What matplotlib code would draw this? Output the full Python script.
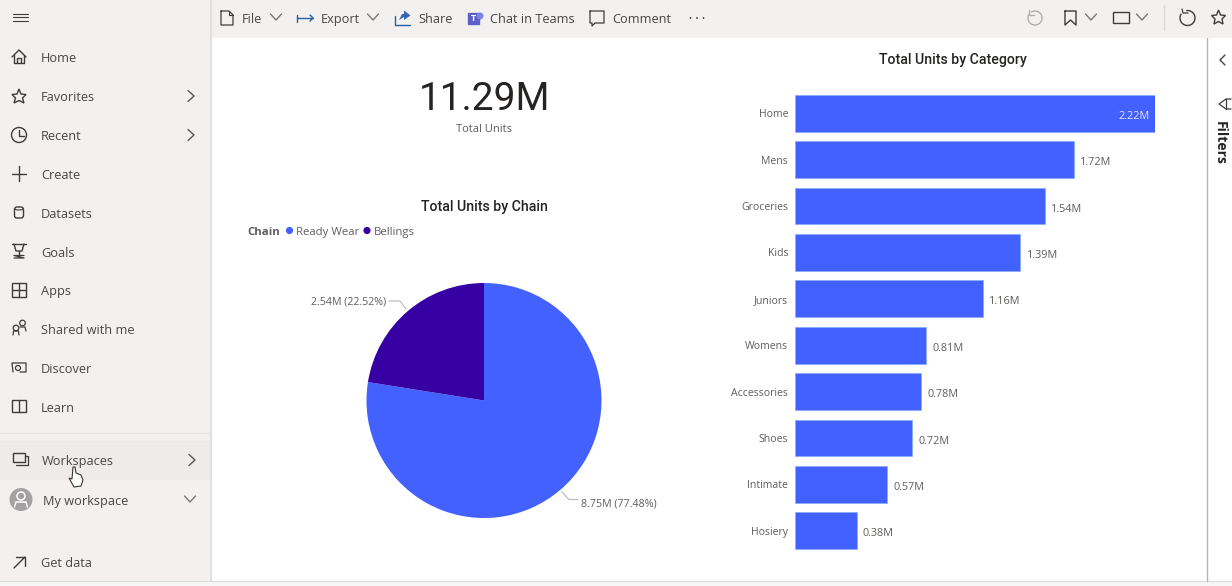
import matplotlib
matplotlib.use("Agg")
import matplotlib.pyplot as plt
from matplotlib.patches import Rectangle, Circle, Polygon, Arc, FancyBboxPatch

W, H = 1232, 586

# chart data
categories = ["Home", "Mens", "Groceries", "Kids", "Juniors", "Womens", "Accessories", "Shoes", "Intimate", "Hosiery"]
units = [2.22, 1.72, 1.54, 1.39, 1.16, 0.81, 0.78, 0.72, 0.57, 0.38]
chains = ["Ready Wear", "Bellings"]
chain_units = [8.75, 2.54]
chain_pct = [77.48, 22.52]
total_units = "11.29M"

nav_items = ["Home", "Favorites", "Recent", "Create", "Datasets", "Goals", "Apps", "Shared with me", "Discover", "Learn"]
nav_y = [57, 96, 135, 174, 213, 252, 290, 329, 368, 407]

BLUE = "#4361ff"
PURPLE = "#3700a3"
TEXT = "#4a4646"
LABEL = "#605e5c"
TITLE = "#252423"
ICON = "#3f3c3c"
PANE = "#f4f0f0"

plt.rcParams["font.family"] = ["Open Sans", "DejaVu Sans"]

fig = plt.figure(figsize=(W / 100, H / 100), dpi=100, facecolor="white")


def px_axes(x0, y0, x1, y1):
    # axes from pixel box, y measured from the top
    return fig.add_axes([x0 / W, 1 - y1 / H, (x1 - x0) / W, (y1 - y0) / H])


# background layer for app chrome, in pixel coords
bg = fig.add_axes([0, 0, 1, 1])
bg.set_xlim(0, W)
bg.set_ylim(H, 0)
bg.axis("off")


def line(xs, ys, c=ICON, lw=1.0):
    bg.plot(xs, ys, color=c, lw=lw, solid_capstyle="round", solid_joinstyle="round")


def box(x, y, w, h, ec=ICON, fc="none", lw=1.0):
    bg.add_patch(Rectangle((x, y), w, h, ec=ec, fc=fc, lw=lw))


def txt(x, y, s, size=9.2, c=TEXT, ha="left", **kw):
    # y is the text baseline
    bg.text(x, y, s, fontsize=size, color=c, ha=ha, va="baseline", **kw)


def chev_right(x, y):
    line([x - 3, x + 3, x - 3], [y - 5.5, y, y + 5.5], c="#555555")


def chev_down(x, y, s=5.5):
    line([x - s, x, x + s], [y - 3, y + 3, y - 3], c="#777777")


bg.add_patch(Rectangle((0, 0), 211, H, fc=PANE, ec="none"))
bg.add_patch(Rectangle((211, 0), W - 211, 38, fc="#f3f0f0", ec="none"))
bg.add_patch(Rectangle((210, 0), 2, H, fc="#e2dfdf", ec="none"))
bg.add_patch(Rectangle((0, 581), W, 5, fc="#f7f6f6", ec="none"))
line([0, W], [581, 581], c="#dedcdc", lw=0.9)
bg.add_patch(Rectangle((0, 441), 210, 39, fc="#efebeb", ec="none"))
line([0, 210], [432.5, 432.5], c="#e6e2e2", lw=0.8)
line([1207, 1207], [38, 581], c="#b5b3b3", lw=1.0)

# hamburger
for y in [13.5, 17, 20.5]:
    line([13, 28], [y, y], lw=0.8)

for label, y in zip(nav_items, nav_y):
    txt(41, y + 5.2, label)
txt(42, 465.5, "Workspaces")
txt(43, 504.5, "My workspace")
txt(41, 567, "Get data")

# nav icons
line([12, 19, 26], [57, 50, 57])
line([14, 14, 24, 24], [55, 63, 63, 55])
line([17, 17, 21, 21], [63, 58, 58, 63])
bg.add_patch(Polygon([(19, 89), (21, 94), (26, 94.5), (22.5, 98), (24, 103), (19, 100.5), (14, 103), (15.5, 98), (12, 94.5), (17, 94)],
                     closed=True, fc="none", ec=ICON, lw=1))
bg.add_patch(Circle((19, 135), 7.5, fc="none", ec=ICON, lw=1))
line([19, 19, 24], [130, 136, 136])
line([12, 26], [174, 174])
line([19, 19], [166, 181])
bg.add_patch(FancyBboxPatch((14.5, 207), 9, 11, boxstyle="round,pad=0,rounding_size=2.5", fc="none", ec=ICON, lw=1))
bg.add_patch(Arc((19, 208.5), 9, 3, theta1=0, theta2=180, ec=ICON, lw=0.8))
line([12, 26], [244, 244])
line([14, 16, 22, 24], [244, 251, 251, 244])
line([19, 19], [251, 256])
line([14, 24, 14, 24], [258, 258, 255.5, 255.5], lw=0.9)
box(12, 283, 14, 14)
line([12, 26], [290, 290])
line([19, 19], [283, 297])
bg.add_patch(Circle((22.5, 323), 2.8, fc="none", ec=ICON, lw=0.9))
bg.add_patch(Circle((16, 328), 2.8, fc="none", ec=ICON, lw=0.9))
line([13, 13.5, 18.5, 19], [335, 331, 331, 335], lw=0.9)
line([20, 25, 26], [327, 327, 331], lw=0.9)
line([13, 12, 26, 26, 20], [372, 363, 363, 372, 372], lw=0.9)
bg.add_patch(Circle((18, 368), 2.5, fc="none", ec=ICON, lw=0.9))
box(12, 400, 14, 12)
line([19, 19], [400, 412])
box(13, 453, 12, 9)
line([25, 28, 28, 16], [456, 456, 465, 465], lw=0.9)
chev_right(191, 96)
chev_right(191, 135)
chev_right(192, 460)
chev_down(190, 499)
bg.add_patch(Circle((21, 499.5), 11.5, fc="#a3a1a1", ec="none"))
bg.add_patch(Circle((21, 496), 4, fc="none", ec="white", lw=1.1))
line([14.5, 16, 26, 27.5], [507, 502, 502, 507], c="white", lw=1.1)
line([14, 25], [568, 557])
line([16, 25, 25], [557, 557, 566])
# cursor
bg.add_patch(Polygon([(73, 467), (75, 467), (76, 473), (81, 475), (83, 480), (81, 486), (74, 487), (69, 478), (72, 479)],
                     closed=True, fc="white", ec="#333333", lw=0.8, zorder=5))

# toolbar
tb_items = [("File", 242), ("Export", 321), ("Share", 418), ("Chat in Teams", 490), ("Comment", 612)]
for label, x in tb_items:
    txt(x, 23.3, label)
line([221, 221, 233, 233, 229, 221], [11, 25, 25, 15, 11, 11], lw=0.9)
line([229, 229, 233], [11, 15, 15], lw=0.8)
chev_down(276, 17)
chev_down(373, 17)
line([297, 297], [14.5, 22], c="#2a5ca8")
line([297, 313], [18, 18], c="#2a5ca8")
line([310, 313, 310], [15, 18, 21], c="#2a5ca8")
line([395, 395, 410], [16, 25, 25], c="#2a5ca8")
bg.add_patch(Polygon([(399, 20), (402, 14), (404, 14), (404, 10.5), (410.5, 15.5), (404, 20), (404, 17)], fc="#3565b5", ec="none"))
box(467.5, 12.5, 11, 11, ec="#5b5fc7", fc="#5b5fc7")
bg.add_patch(Circle((480, 16), 3.5, fc="#7b83eb", ec="none"))
bg.text(473, 18.2, "T", fontsize=6.5, color="white", ha="center", va="center", fontweight="bold")
line([590, 604, 604, 595, 592, 592, 590, 590], [11, 11, 23, 23, 26, 23, 23, 11], lw=0.9)
for x in [690.5, 697, 703.5]:
    bg.add_patch(Circle((x, 18), 0.9, fc=ICON, ec="none"))

# right toolbar
bg.add_patch(Arc((1035, 18), 14, 14, theta1=-125, theta2=210, ec="#b0aeae", lw=1))
line([1029, 1029, 1034], [10, 15, 15], c="#b0aeae", lw=1)
line([1065, 1065, 1070.5, 1076, 1076, 1065], [11, 25, 20, 25, 11, 11], lw=1)
chev_down(1091, 17)
box(1113, 12, 16, 11)
chev_down(1142, 17)
line([1164, 1164], [5, 30], c="#dcdada", lw=1)
bg.add_patch(Arc((1187.5, 18), 15, 15, theta1=-100, theta2=215, ec=ICON, lw=1))
line([1182, 1183, 1188], [9, 13, 13], lw=0.9)
bg.add_patch(Polygon([(1218.5, 10), (1220.5, 15), (1225.5, 15.5), (1222, 19), (1223, 24), (1218.5, 21.5), (1214, 24), (1215, 19), (1211.5, 15.5), (1216.5, 15)],
                     fc="none", ec=ICON, lw=1))

# filters pane
line([1225, 1220, 1225], [55, 60, 65], c="#444444")
line([1231, 1226, 1219, 1226, 1231], [99, 99, 104, 109, 109], lw=0.9)
line([1226, 1226], [99, 109], lw=0.9)
bg.text(1220, 143, "Filters", fontsize=10, color=TITLE, rotation=-90, ha="center", va="center", fontweight="bold")

# KPI card
txt(484.5, 109.5, total_units, size=28, c=TITLE, ha="center", family="Roboto")
txt(483.5, 131.5, "Total Units", size=8.0, c=LABEL, ha="center")

# pie chart
txt(484, 211, "Total Units by Chain", size=10.2, c=TITLE, ha="center", family="Roboto", fontweight="medium")
txt(247, 235, "Chain", size=8.2, c=LABEL, fontweight="bold")
for label, color, xc in zip(chains, [BLUE, PURPLE], [289.5, 367]):
    bg.add_patch(Circle((xc, 230.5), 3.6, fc=color, ec="none"))
    txt(xc + 6.5, 235, label, size=8.2, c=LABEL)

ax_pie = px_axes(364, 280.5, 604, 520.5)
ax_pie.pie(chain_units, colors=[BLUE, PURPLE], startangle=90, counterclock=False, radius=117.5 / 120)
ax_pie.set_xlim(-1, 1)
ax_pie.set_ylim(-1, 1)

line([562, 569, 578], [492, 499.5, 499.5], c="#b8b6b6", lw=0.8)
line([406, 400, 389], [309, 301, 301], c="#b8b6b6", lw=0.8)
txt(581, 506, "%.2fM (%.2f%%)" % (chain_units[0], chain_pct[0]), size=7.7, c=LABEL)
txt(386, 305, "%.2fM (%.2f%%)" % (chain_units[1], chain_pct[1]), size=7.7, c=LABEL, ha="right")

# bar chart
txt(952.5, 64, "Total Units by Category", size=10.2, c=TITLE, ha="center", family="Roboto", fontweight="medium")
ax_bar = px_axes(795, 90, 1155, 554)
ypos = list(range(len(categories)))
ax_bar.barh(ypos, units, height=0.79, color=BLUE, edgecolor="#86adff", linewidth=0.5)
ax_bar.set_xlim(0, 2.22)
ax_bar.set_ylim(len(categories) - 0.5, -0.5)
ax_bar.set_yticks(ypos)
ax_bar.set_yticklabels(categories, fontsize=7.6, color=LABEL, va="center_baseline")
ax_bar.set_xticks([])
ax_bar.tick_params(axis="y", length=0, pad=5)
for s in ax_bar.spines.values():
    s.set_visible(False)
ax_bar.patch.set_alpha(0)
for y, v in zip(ypos, units):
    if v == max(units):
        ax_bar.annotate("%.2fM" % v, (v, y), xytext=(-4, -1.2), textcoords="offset points", ha="right", va="center_baseline",
                        fontsize=7.8, color="#dfe4ff", annotation_clip=False)
    else:
        ax_bar.annotate("%.2fM" % v, (v, y), xytext=(4.5, -1.2), textcoords="offset points", ha="left", va="center_baseline",
                        fontsize=7.8, color=LABEL, annotation_clip=False)

fig.savefig("out.png", dpi=100)
